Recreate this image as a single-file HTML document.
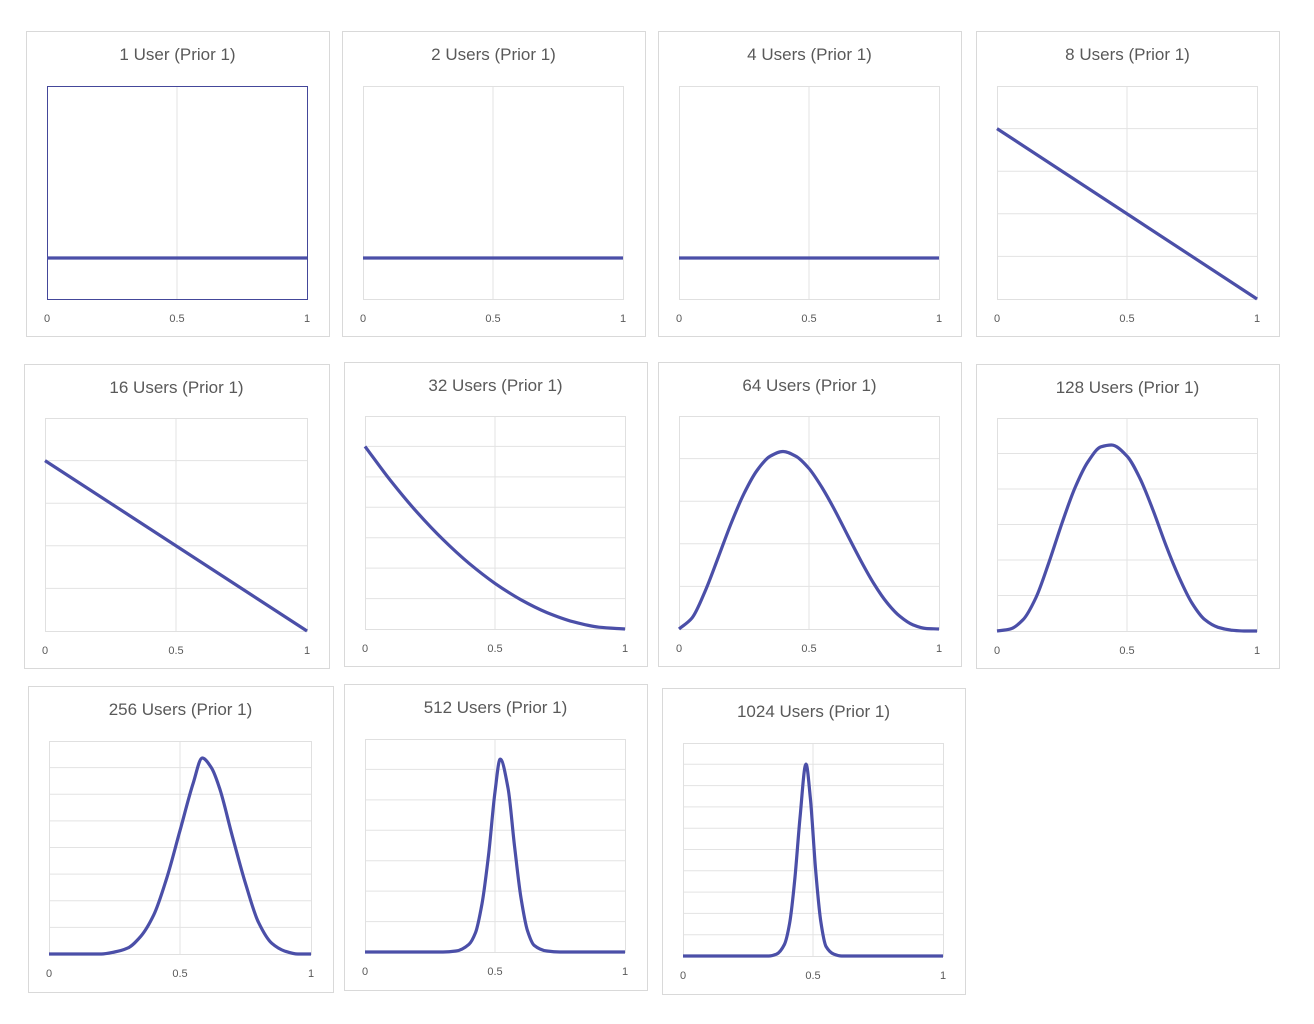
<!DOCTYPE html>
<html><head><meta charset="utf-8"><style>
body{margin:0;background:#fff;width:1314px;height:1024px;overflow:hidden;font-family:"Liberation Sans",sans-serif}
svg{position:absolute;left:0;top:0}
</style></head><body>
<svg id="c" width="1314" height="1024"></svg>
<script>
// Data per panel
const titles=["1 User (Prior 1)","2 Users (Prior 1)","4 Users  (Prior 1)","8 Users  (Prior 1)","16 Users  (Prior 1)","32 Users  (Prior 1)","64 Users  (Prior 1)","128 Users  (Prior 1)","256 Users  (Prior 1)","512 Users  (Prior 1)","1024 Users (Prior 1)"];
const xTickLabels=["0","0.5","1"];
const yMax=[5.2,5.2,5.2,2.5,2.5,3.5,1.2,1.145,1.087,1.104,1.11];
const gridCounts=[0,0,0,5,5,7,5,6,8,7,10];
const xs1=[0,1], ys1=[1,1];
const xs2=[0,1], ys2=[1,1];
const xs3=[0,1], ys3=[1,1];
const xs4=[0,1], ys4=[2,0];
const xs5=[0,1], ys5=[2,0];
const xs6=[0,.1,.2,.3,.4,.5,.6,.7,.8,.9,1];
const ys6=[3,2.43,1.92,1.47,1.08,.75,.48,.27,.12,.03,0];
const xs7=[0,.05,.1,.15,.2,.25,.3,.35,.4,.45,.5,.55,.6,.65,.7,.75,.8,.85,.9,.95,1];
const ys7=[0,.062,.211,.40,.593,.763,.893,.973,1,.973,.904,.797,.667,.524,.383,.254,.148,.071,.023,.003,0];
const xs8=[0,.05,.1,.15,.2,.25,.3,.35,.4,.44,.5,.55,.6,.65,.7,.75,.8,.85,.9,.95,1];
const ys8=[0,.01,.06,.18,.37,.58,.77,.91,.99,1,.94,.82,.65,.46,.29,.15,.06,.02,.005,0,0];
const xs9=[0,.2,.25,.3,.35,.4,.45,.5,.55,.585,.62,.65,.7,.75,.8,.85,.9,.95,1];
const ys9=[0,0,.01,.03,.09,.2,.39,.63,.87,1,.95,.85,.6,.36,.16,.055,.015,0,0];
const xs10=[0,.3,.35,.4,.425,.45,.475,.5,.52,.55,.575,.6,.625,.65,.7,.75,1];
const ys10=[0,0,.005,.04,.1,.25,.5,.83,1,.85,.55,.28,.11,.035,.005,0,0];
const xs11=[0,.33,.36,.39,.41,.43,.45,.473,.49,.51,.53,.55,.58,.61,1];
const ys11=[0,0,.01,.06,.17,.4,.72,1,.82,.45,.18,.05,.01,0,0];
const seriesX=[xs1,xs2,xs3,xs4,xs5,xs6,xs7,xs8,xs9,xs10,xs11];
const seriesY=[ys1,ys2,ys3,ys4,ys5,ys6,ys7,ys8,ys9,ys10,ys11];

const boxes=[[26,31,303,305],[342,31,303,305],[658,31,303,305],[976,31,303,305],
[24,364,305,304],[344,362,303,304],[658,362,303,304],[976,364,303,304],
[28,686,305,306],[344,684,303,306],[662,688,303,306]];
const plots=[[47,86,307,299],[363,86,623,299],[679,86,939,299],[997,86,1257,299],
[45,418,307,631],[365,416,625,629],[679,416,939,629],[997,418,1257,631],
[49,741,311,954],[365,739,625,952],[683,743,943,956]];
const NS="http://www.w3.org/2000/svg";
const svg=document.getElementById('c');
function mk(t,a,p){const e=document.createElementNS(NS,t);for(const k in a)e.setAttribute(k,a[k]);(p||svg).appendChild(e);return e;}
// monotone cubic (Fritsch-Carlson) path
function monotone(pts){
 const n=pts.length;if(n<3){return "M"+pts.map(p=>p[0].toFixed(1)+","+p[1].toFixed(1)).join(" L");}
 const d=[],m=[];
 for(let i=0;i<n-1;i++)d.push((pts[i+1][1]-pts[i][1])/(pts[i+1][0]-pts[i][0]));
 m[0]=d[0];m[n-1]=d[n-2];
 for(let i=1;i<n-1;i++){ if(d[i-1]*d[i]<=0)m[i]=0; else { const h0=pts[i][0]-pts[i-1][0],h1=pts[i+1][0]-pts[i][0];
   const w1=2*h1+h0,w2=h1+2*h0; m[i]=(w1+w2)/(w1/d[i-1]+w2/d[i]); } }
 let s="M"+pts[0][0].toFixed(1)+","+pts[0][1].toFixed(1);
 for(let i=0;i<n-1;i++){const h=(pts[i+1][0]-pts[i][0])/3;
  s+=" C"+(pts[i][0]+h).toFixed(1)+","+(pts[i][1]+m[i]*h).toFixed(1)+" "+(pts[i+1][0]-h).toFixed(1)+","+(pts[i+1][1]-m[i+1]*h).toFixed(1)+" "+pts[i+1][0].toFixed(1)+","+pts[i+1][1].toFixed(1);}
 return s;}
titles.forEach((t,i)=>{
 const g=mk('g',{});
 
 
 const [bx,by,bw,bh]=boxes[i];const [x0,y0,x1,y1]=plots[i];
 const box=mk('rect',{x:bx+.5,y:by+.5,width:bw,height:bh,fill:'#fff',stroke:'#d9d9d9'},g);
 
 
 const sx=v=>x0+v*(x1-x0), sy=v=>y1-v/yMax[i]*(y1-y0);
 const n=gridCounts[i];
 for(let k=1;k<n;k++){const y=y1-k*(y1-y0)/n;
  const gl=mk('line',{x1:x0,x2:x1,y1:y.toFixed(1),y2:y.toFixed(1),stroke:'#e3e3e3'},g);
  
  }
 const vg=mk('line',{x1:sx(.5),x2:sx(.5),y1:y0,y2:y1,stroke:'#e3e3e3'},g);
 
 
 const pa=mk('rect',{x:x0+.5,y:y0+.5,width:x1-x0,height:y1-y0,fill:'none',stroke:i==0?'#44479a':'#e0e0e0'},g);
 
 
 const tt=mk('text',{x:bx+bw/2,y:by+29,'text-anchor':'middle','font-size':'17',fill:'#595959'},g);
 tt.textContent=t;
 
 
 xTickLabels.forEach((l,k)=>{
  const tx=mk('text',{x:sx(k*0.5),y:y1+23,'text-anchor':'middle','font-size':'11',fill:'#595959'},g);
  tx.textContent=l;
  
  });
 const pts=seriesX[i].map((x,k)=>[sx(x),sy(seriesY[i][k])]);
 const path=mk('path',{d:monotone(pts),fill:'none',stroke:'#4b4fa8','stroke-width':3.2,'stroke-linejoin':'round'},g);
 
 
});
</script>
</body></html>
